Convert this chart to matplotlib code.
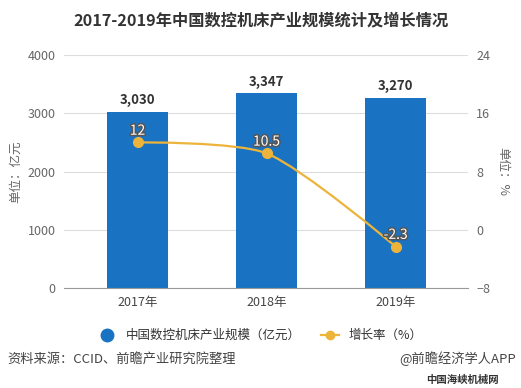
import matplotlib
matplotlib.use('Agg')
import matplotlib.pyplot as plt
import matplotlib.patheffects as pe
from matplotlib.path import Path
from matplotlib.patches import PathPatch
from matplotlib.lines import Line2D
import numpy as np

plt.rcParams['font.family'] = ['Noto Sans CJK SC', 'DejaVu Sans']

years = ['2017年', '2018年', '2019年']
scale = [3030, 3347, 3270]
growth = [12, 10.5, -2.3]
scale_labels = ['3,030', '3,347', '3,270']
growth_labels = ['12', '10.5', '-2.3']

bar_color = '#1a73c2'
line_color = '#edb43c'
gray = '#666666'

fig = plt.figure(figsize=(5.21, 3.88), dpi=100)
ax = fig.add_axes([0.1228, 0.2577, 0.7752, 0.6005])
ax2 = ax.twinx()

x = np.arange(len(years))
ax.bar(x, scale, width=0.47, color=bar_color, zorder=2)
for xi, v, s in zip(x, scale, scale_labels):
    ax.text(xi, v + 70, s, ha='center', va='bottom', fontsize=9.5,
            fontweight='bold', color='#333333')

ax.set_xlim(-0.57, 2.56)
ax.set_ylim(0, 4000)
ax.set_yticks([0, 1000, 2000, 3000, 4000])
ax.set_xticks(x)
ax.set_xticklabels(years)
ax.grid(axis='y', color='#dddddd', linewidth=0.8, zorder=0)
ax.set_axisbelow(True)
for sp in ['top', 'left', 'right']:
    ax.spines[sp].set_visible(False)
ax.spines['bottom'].set_color('#999999')
ax.tick_params(axis='y', length=0, labelsize=9, colors=gray, pad=6)
ax.tick_params(axis='x', length=0, labelsize=9, colors='#444444', pad=6)
ax.set_ylabel('单位：亿元', fontsize=9, color=gray, labelpad=4)

ax2.set_ylim(-8, 24)

# smooth growth curve, control points like an echarts "smooth" line
pts = np.column_stack([x, growth]).astype(float)
px = ax2.transData.transform(pts)
verts = [pts[0]]
codes = [Path.MOVETO]
cps = []
for i in range(len(pts)):
    if i == 0 or i == len(pts) - 1:
        cps.append((pts[i], pts[i]))
        continue
    v = pts[i + 1] - pts[i - 1]
    d0 = np.hypot(*(px[i] - px[i - 1]))
    d1 = np.hypot(*(px[i + 1] - px[i]))
    cps.append((pts[i] - v * 0.25 * d0 / (d0 + d1),
                pts[i] + v * 0.25 * d1 / (d0 + d1)))
for i in range(len(pts) - 1):
    verts += [cps[i][1], cps[i + 1][0], pts[i + 1]]
    codes += [Path.CURVE4] * 3
ax2.add_patch(PathPatch(Path(verts, codes), facecolor='none',
                        edgecolor=line_color, linewidth=1.6, zorder=3))
ax2.plot(x, growth, 'o', color=line_color, markersize=7, zorder=4)
for xi, v, s in zip(x, growth, growth_labels):
    ax2.text(xi, v + 1.6, s, ha='center', va='center', fontsize=10,
             color='white', zorder=5,
             path_effects=[pe.withStroke(linewidth=2.2, foreground='#555555')])

ax2.set_yticks([-8, 0, 8, 16, 24])
for sp in ['top', 'left', 'right', 'bottom']:
    ax2.spines[sp].set_visible(False)
ax2.tick_params(axis='y', length=0, labelsize=9, colors=gray, pad=6)
ax2.set_ylabel('单位：%', fontsize=9, color=gray, rotation=270, labelpad=14)

fig.text(0.5, 0.947, '2017-2019年中国数控机床产业规模统计及增长情况',
         ha='center', va='center', fontsize=11.7, fontweight='bold', color='#333333')

handles = [Line2D([], [], marker='o', linestyle='none', color=bar_color, markersize=9),
           Line2D([], [], marker='o', color=line_color, linewidth=1.6, markersize=6)]
fig.legend(handles, ['中国数控机床产业规模（亿元）', '增长率（%）'], loc='center',
           bbox_to_anchor=(0.5, 0.135), ncol=2, frameon=False, fontsize=9,
           handlelength=1.4, columnspacing=1.6, labelcolor='#333333')

fig.text(0.015, 0.075, '资料来源：CCID、前瞻产业研究院整理', ha='left', va='center',
         fontsize=9.5, color='#444444')
fig.text(0.99, 0.075, '@前瞻经济学人APP', ha='right', va='center',
         fontsize=9.5, color='#444444')
fig.text(0.887, 0.022, '中国海峡机械网', ha='center', va='center',
         fontsize=7.5, fontweight='bold', color='#333333')

fig.savefig('out.png', dpi=100)
